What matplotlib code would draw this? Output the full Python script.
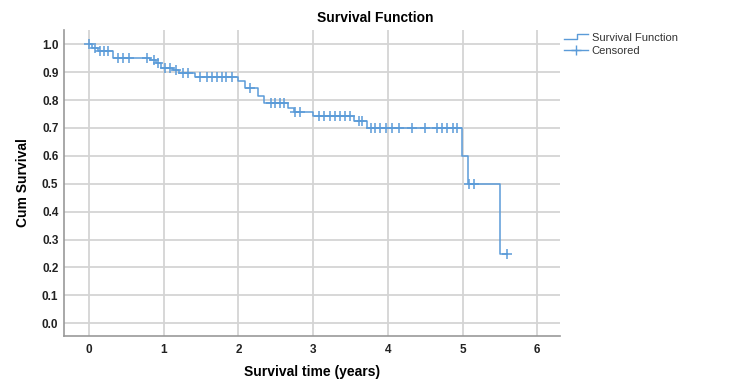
import numpy as np
import matplotlib
matplotlib.use("Agg")
import matplotlib.pyplot as plt
from matplotlib.legend_handler import HandlerBase
from matplotlib.lines import Line2D

plt.rcParams["font.family"] = ["Liberation Sans", "DejaVu Sans"]

# Kaplan-Meier step data (time in years, cumulative survival after step)
step_times = [0.0, 0.036, 0.125, 0.32, 0.82, 0.90, 0.97, 1.13, 1.20, 1.42,
              2.00, 2.09, 2.26, 2.34, 2.67, 2.74, 3.00, 3.55, 3.72, 4.99,
              5.08, 5.50]
step_surv = [1.0, 0.986, 0.977, 0.952, 0.943, 0.934, 0.916, 0.908, 0.897, 0.884,
             0.869, 0.842, 0.815, 0.788, 0.772, 0.757, 0.744, 0.724, 0.699, 0.599,
             0.499, 0.25]
end_time = 5.59

censor_times = [0.0, 0.08, 0.15, 0.20, 0.26, 0.39, 0.46, 0.53, 0.78, 0.87, 0.93,
                1.02, 1.09, 1.17, 1.26, 1.33, 1.49, 1.58, 1.64, 1.71, 1.78, 1.84,
                1.91, 2.16, 2.43, 2.49, 2.56, 2.61, 2.76, 2.83, 3.08, 3.15, 3.22,
                3.29, 3.36, 3.43, 3.50, 3.61, 3.65, 3.77, 3.83, 3.90, 3.97, 4.06,
                4.15, 4.33, 4.50, 4.66, 4.73, 4.79, 4.87, 4.93, 5.09, 5.16, 5.59]

x_ticks = [0, 1, 2, 3, 4, 5, 6]
y_ticks = [0.0, 0.1, 0.2, 0.3, 0.4, 0.5, 0.6, 0.7, 0.8, 0.9, 1.0]

line_color = "#5b9bd8"
grid_color = "#d4d4d4"

t = np.array(step_times)
s = np.array(step_surv)
ct = np.array(censor_times)
cs = s[np.searchsorted(t, ct, side="right") - 1]

fig = plt.figure(figsize=(7.5, 3.9), dpi=100)
ax = fig.add_axes([64/750, 1-336/390, (560-64)/750, (336-30)/390])

xs = np.append(t, end_time)
ys = np.append(s, s[-1])
ax.step(xs, ys, where="post", color=line_color, lw=1.1, zorder=3)
ax.plot(ct, cs, linestyle="none", marker="+", color=line_color,
        markersize=6.5, mew=1.1, zorder=4)

ax.set_xlim(-0.335, 6.305)
ax.set_ylim(-0.0455, 1.051)
ax.set_xticks(x_ticks)
ax.set_yticks(y_ticks)
ax.set_xticklabels([str(v) for v in x_ticks])
ax.set_yticklabels([f"{v:.1f}" for v in y_ticks])
ax.grid(True, color=grid_color, lw=1.3, zorder=0)
ax.set_axisbelow(True)
for sp in ["top", "right"]:
    ax.spines[sp].set_visible(False)
for sp in ["left", "bottom"]:
    ax.spines[sp].set_color("#999999")
    ax.spines[sp].set_linewidth(1.2)
ax.tick_params(axis="y", length=0, pad=4, labelsize=8.5, labelcolor="#222222")
ax.tick_params(axis="x", length=0, pad=6, labelsize=8.5, labelcolor="#222222")
for lab in ax.get_xticklabels() + ax.get_yticklabels():
    lab.set_fontweight("bold")

ax.set_xlabel("Survival time (years)", fontsize=10, fontweight="bold")
ax.set_ylabel("Cum Survival", fontsize=10, fontweight="bold")
ax.xaxis.set_label_coords(0.5, (336-372)/306)
ax.yaxis.set_label_coords((23-64)/496, 0.5)
ax.xaxis.label.set_va("center")
ax.yaxis.label.set_va("center")
fig.text(0.5, 1-18/390, "Survival Function", fontsize=10, fontweight="bold",
         ha="center", va="center")


class StepHandler(HandlerBase):
    def create_artists(self, legend, orig_handle, xdescent, ydescent,
                       width, height, fontsize, trans):
        x0 = -xdescent
        y0 = -ydescent
        xs_ = [x0, x0 + width * 0.55, x0 + width * 0.55, x0 + width]
        ys_ = [y0 + height * 0.25, y0 + height * 0.25, y0 + height * 0.85, y0 + height * 0.85]
        ln = Line2D(xs_, ys_, color=line_color, lw=1.0, transform=trans)
        return [ln]


step_handle = Line2D([], [], color=line_color)
cens_handle = Line2D([], [], color=line_color, lw=1.0, marker="+",
                     markersize=7, mew=1.0)
leg = fig.legend([step_handle, cens_handle], ["Survival Function", "Censored"],
                 handler_map={step_handle: StepHandler()},
                 loc="upper left", bbox_to_anchor=(556/750, 1-25/390),
                 frameon=False, fontsize=8, handlelength=2.2,
                 handletextpad=0.3, labelspacing=0.25, borderpad=0.2)
for txt in leg.get_texts():
    txt.set_color("#333333")

fig.savefig("out.png", dpi=100)
